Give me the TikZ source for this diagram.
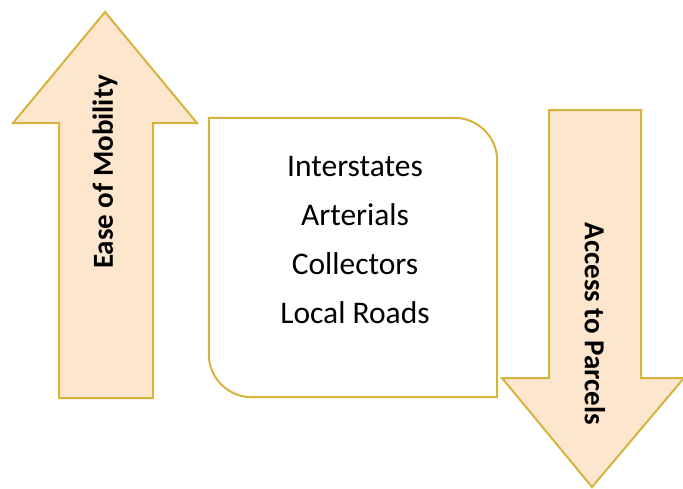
\documentclass[tikz,border=0pt]{standalone}
\usepackage{fontspec}
\setmainfont{Carlito}
\usepackage{tikz}
\usetikzlibrary{positioning}

\definecolor{peach}{HTML}{FDE6CE}
\definecolor{gold}{HTML}{D6B33C}

\begin{document}
\begin{tikzpicture}[x=1pt, y=-1pt,
    bigarrow/.style={draw=gold, fill=peach, line width=2pt, line join=miter},
    arrowtext/.style={font=\fontsize{29}{34}\selectfont\bfseries, inner sep=0pt},
    classbox/.style={minimum width=288pt, minimum height=279pt, inner sep=0pt}]

    \useasboundingbox (0,0) rectangle (683,488);

    % up arrow on the left
    \draw[bigarrow] (105,12) -- (197,123) -- (153,123) -- (153,398)
        -- (59,398) -- (59,123) -- (13,123) -- cycle;
    \node[arrowtext, rotate=90] (mobility) at (105,172) {Ease of Mobility};

    % down arrow on the right
    \draw[bigarrow] (549,110) -- (641,110) -- (641,378) -- (684,378)
        -- (592,487) -- (502,378) -- (549,378) -- cycle;
    \node[arrowtext, rotate=-90] (parcels) at (595,324) {Access to Parcels};

    % box with two rounded corners
    \node[classbox] (roads) at (353,257.5) {};
    \draw[gold, line width=2pt]
        (roads.north west) [rounded corners=43pt] -- (roads.north east)
        [sharp corners] -- (roads.south east) [rounded corners=43pt]
        -- (roads.south west) [sharp corners] -- cycle;
    \node[align=center, font=\fontsize{31.5}{49}\selectfont] (classes) at (355,240)
        {Interstates\\Arterials\\Collectors\\Local Roads};

\end{tikzpicture}
\end{document}
